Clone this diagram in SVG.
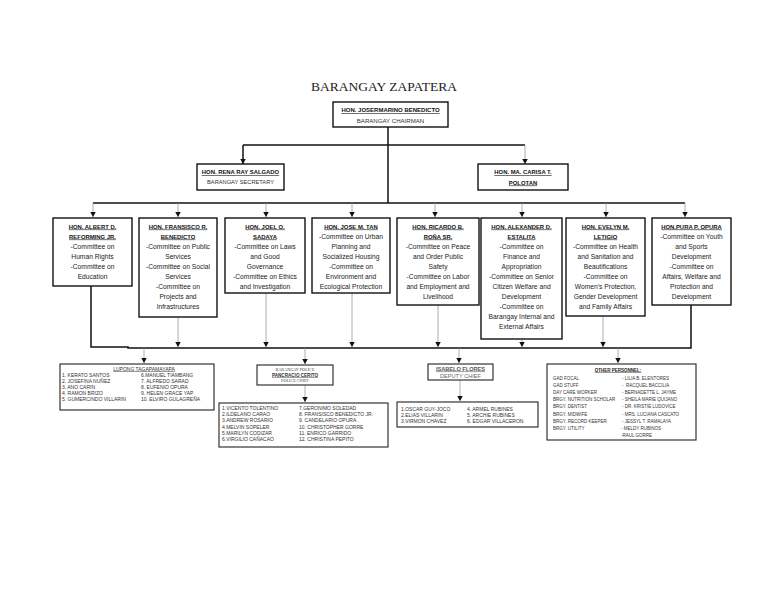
<svg xmlns="http://www.w3.org/2000/svg" width="768" height="594" viewBox="0 0 768 594">
<style>
.bg{fill:#fff}
.box{fill:#fff;stroke:#111;stroke-width:1.4}
.sbox{fill:#fff;stroke:#222;stroke-width:1.1}
.title{font-family:"Liberation Serif",serif;font-size:13.5px;fill:#222;text-anchor:middle}
.h{font-family:"Liberation Sans",Arial,sans-serif;font-size:5.9px;font-weight:bold;fill:#111;text-anchor:middle;text-decoration:underline}
.s{font-family:"Liberation Sans",Arial,sans-serif;font-size:6px;fill:#333;text-anchor:middle}
.c{font-family:"Liberation Sans",Arial,sans-serif;font-size:6.7px;fill:#222;text-anchor:middle}
.n{font-family:"Liberation Sans",Arial,sans-serif;font-size:5px;fill:#333}
.p{font-family:"Liberation Sans",Arial,sans-serif;font-size:4.5px;fill:#333}
.thick{fill:none;stroke:#111;stroke-width:1.5}
.thin{fill:none;stroke:#999;stroke-width:0.8}
</style>
<defs>
<marker id="ah" markerUnits="userSpaceOnUse" markerWidth="6" markerHeight="6" refX="5" refY="2.75" orient="auto">
<path d="M0,0 L5,2.75 L0,5.5 z" fill="#111"/>
</marker>
</defs>
<rect class="bg" x="0" y="0" width="768" height="594"/>
<text class="title" x="384" y="91">BARANGAY ZAPATERA</text>

<g id="connectors">
<path class="thick" d="M388,127 V203"/>
<path class="thick" d="M243,145 H525"/>
<path class="thick" d="M243,145 V164" marker-end="url(#ah)"/>
<path class="thin" d="M525,145 V164" marker-end="url(#ah)"/>
<path class="thick" d="M93,203 H685"/>
<path class="thin" d="M93,203 V217" marker-end="url(#ah)"/>
<path class="thin" d="M178,203 V217" marker-end="url(#ah)"/>
<path class="thin" d="M266,203 V217" marker-end="url(#ah)"/>
<path class="thin" d="M352,203 V217" marker-end="url(#ah)"/>
<path class="thin" d="M435,203 V217" marker-end="url(#ah)"/>
<path class="thin" d="M522,203 V217" marker-end="url(#ah)"/>
<path class="thin" d="M606,203 V217" marker-end="url(#ah)"/>
<path class="thin" d="M685,203 V217" marker-end="url(#ah)"/>
<path class="thick" d="M91,286 V347 H128 V348 H691 V305"/>
<path class="thin" d="M178,317 V347" marker-end="url(#ah)"/>
<path class="thin" d="M266,293 V347" marker-end="url(#ah)"/>
<path class="thin" d="M352,293 V347" marker-end="url(#ah)"/>
<path class="thin" d="M438,305 V347" marker-end="url(#ah)"/>
<path class="thin" d="M522,339 V347" marker-end="url(#ah)"/>
<path class="thin" d="M603,316 V347" marker-end="url(#ah)"/>
<path class="thin" d="M144,348 V363" marker-end="url(#ah)"/>
<path class="thin" d="M305,348 V364" marker-end="url(#ah)"/>
<path class="thin" d="M459,348 V363" marker-end="url(#ah)"/>
<path class="thin" d="M618,348 V363" marker-end="url(#ah)"/>
<path class="thin" d="M305,385 V402" marker-end="url(#ah)"/>
<path class="thin" d="M460,380 V401" marker-end="url(#ah)"/>
</g>

<g id="chairman">
<rect class="box" x="333" y="102" width="115" height="25"/>
<text class="h" x="390.5" y="112" style="font-size:6px">HON. JOSERMARINO BENEDICTO</text>
<text class="s" x="390.5" y="123" style="font-size:6.1px">BARANGAY CHAIRMAN</text>
</g>

<g id="secretary">
<rect class="box" x="197" y="164" width="87" height="26"/>
<text class="h" x="240.5" y="174">HON. RENA RAY SALGADO</text>
<text class="s" x="240.5" y="184" style="font-size:5.7px">BARANGAY SECRETARY</text>
</g>

<g id="treasurer">
<rect class="box" x="478" y="164" width="90" height="26"/>
<text class="h" x="523" y="174">HON. MA. CARISA T.</text>
<text class="h" x="523" y="184.5">POLOTAN</text>
</g>

<g id="kagawad1">
<rect class="box" x="53" y="218" width="79" height="68"/>
<text class="h" x="92.5" y="228.5">HON. ALBERT D.</text>
<text class="h" x="92.5" y="238.5">REFORMING JR.</text>
<text class="c" x="92.5" y="248.5">-Committee on</text>
<text class="c" x="92.5" y="258.5">Human Rights</text>
<text class="c" x="92.5" y="268.5">-Committee on</text>
<text class="c" x="92.5" y="278.5">Education</text>
</g>

<g id="kagawad2">
<rect class="box" x="139" y="218" width="78" height="99"/>
<text class="h" x="178" y="228.5">HON. FRANSISCO R.</text>
<text class="h" x="178" y="238.5">BENEDICTO</text>
<text class="c" x="178" y="248.5">-Committee on Public</text>
<text class="c" x="178" y="258.5">Services</text>
<text class="c" x="178" y="268.5">-Committee on Social</text>
<text class="c" x="178" y="278.5">Services</text>
<text class="c" x="178" y="288.5">-Committee on</text>
<text class="c" x="178" y="298.5">Projects and</text>
<text class="c" x="178" y="308.5">Infrastructures</text>
</g>

<g id="kagawad3">
<rect class="box" x="225" y="218" width="80" height="75"/>
<text class="h" x="265" y="228.5">HON. JOEL O.</text>
<text class="h" x="265" y="238.5">SADAYA</text>
<text class="c" x="265" y="248.5">-Committee on Laws</text>
<text class="c" x="265" y="258.5">and Good</text>
<text class="c" x="265" y="268.5">Governance</text>
<text class="c" x="265" y="278.5">-Committee on Ethics</text>
<text class="c" x="265" y="288.5">and Investigation</text>
</g>

<g id="kagawad4">
<rect class="box" x="312" y="218" width="78" height="75"/>
<text class="h" x="351" y="228.5">HON. JOSE M. TAN</text>
<text class="c" x="351" y="238.5">-Committee on Urban</text>
<text class="c" x="351" y="248.5">Planning and</text>
<text class="c" x="351" y="258.5">Socialized Housing</text>
<text class="c" x="351" y="268.5">-Committee on</text>
<text class="c" x="351" y="278.5">Environment and</text>
<text class="c" x="351" y="288.5">Ecological Protection</text>
</g>

<g id="kagawad5">
<rect class="box" x="397" y="218" width="82" height="87"/>
<text class="h" x="438" y="228.5">HON. RICARDO B.</text>
<text class="h" x="438" y="238.5">ROÑA SR.</text>
<text class="c" x="438" y="248.5">-Committee on Peace</text>
<text class="c" x="438" y="258.5">and Order Public</text>
<text class="c" x="438" y="268.5">Safety</text>
<text class="c" x="438" y="278.5">-Committee on Labor</text>
<text class="c" x="438" y="288.5">and Employment and</text>
<text class="c" x="438" y="298.5">Livelihood</text>
</g>

<g id="kagawad6">
<rect class="box" x="481" y="218" width="81" height="121"/>
<text class="h" x="521.5" y="228.5">HON. ALEXANDER D.</text>
<text class="h" x="521.5" y="238.5">ESTALITA</text>
<text class="c" x="521.5" y="248.5">-Committee on</text>
<text class="c" x="521.5" y="258.5">Finance and</text>
<text class="c" x="521.5" y="268.5">Appropriation</text>
<text class="c" x="521.5" y="278.5">-Committee on Senior</text>
<text class="c" x="521.5" y="288.5">Citizen Welfare and</text>
<text class="c" x="521.5" y="298.5">Development</text>
<text class="c" x="521.5" y="308.5">-Committee on</text>
<text class="c" x="521.5" y="318.5">Barangay Internal and</text>
<text class="c" x="521.5" y="328.5">External Affairs</text>
</g>

<g id="kagawad7">
<rect class="box" x="566" y="218" width="79" height="98"/>
<text class="h" x="605.5" y="228.5">HON. EVELYN M.</text>
<text class="h" x="605.5" y="238.5">LETIGIO</text>
<text class="c" x="605.5" y="248.5">-Committee on Health</text>
<text class="c" x="605.5" y="258.5">and Sanitation and</text>
<text class="c" x="605.5" y="268.5">Beautifications</text>
<text class="c" x="605.5" y="278.5">-Committee on</text>
<text class="c" x="605.5" y="288.5">Women’s Protection,</text>
<text class="c" x="605.5" y="298.5">Gender Development</text>
<text class="c" x="605.5" y="308.5">and Family Affairs</text>
</g>

<g id="kagawad8">
<rect class="box" x="652" y="218" width="79" height="87"/>
<text class="h" x="691.5" y="228.5">HON.PURA P. OPURA</text>
<text class="c" x="691.5" y="238.5">-Committee on Youth</text>
<text class="c" x="691.5" y="248.5">and Sports</text>
<text class="c" x="691.5" y="258.5">Development</text>
<text class="c" x="691.5" y="268.5">-Committee on</text>
<text class="c" x="691.5" y="278.5">Affairs, Welfare and</text>
<text class="c" x="691.5" y="288.5">Protection and</text>
<text class="c" x="691.5" y="298.5">Development</text>
</g>

<g id="lupong">
<rect class="sbox" x="60" y="364" width="154" height="46"/>
<text class="n" x="144" y="370.5" style="text-anchor:middle;text-decoration:underline">LUPONG TAGAPAMAYAPA</text>
<text class="n" x="62" y="376.8">1. KERATO SANTOS</text>
<text class="n" x="62" y="382.8">2. JOSEFINA NUÑEZ</text>
<text class="n" x="62" y="388.8">3. ANO CARIN</text>
<text class="n" x="62" y="394.8">4. RAMON BRIZO</text>
<text class="n" x="62" y="400.8">5. GUMERCINDO VILLARIN</text>
<text class="n" x="141" y="376.8">6.MANUEL TIAMBANG</text>
<text class="n" x="141" y="382.8">7. ALFREDO SARAD</text>
<text class="n" x="141" y="388.8">8. EUFENIO OPURA</text>
<text class="n" x="141" y="394.8">9. HELEN GRACE YAP</text>
<text class="n" x="141" y="400.8">10. ELVIRO GULAGREÑA</text>
</g>

<g id="police">
<rect class="sbox" x="257" y="365" width="76" height="20"/>
<text x="295" y="371" style="font-family:'Liberation Serif',serif;font-size:4.2px;fill:#444;text-anchor:middle">BARANGAY POLICE</text>
<text class="n" x="295" y="376.5" style="font-size:4.6px;font-weight:bold;text-anchor:middle;text-decoration:underline">PANCRACIO CERITO</text>
<text x="295" y="381.5" style="font-family:'Liberation Serif',serif;font-size:4.2px;fill:#444;text-anchor:middle">POLICE CHIEF</text>
</g>

<g id="police-members">
<rect class="sbox" x="219" y="403" width="169" height="44"/>
<text class="n" x="222" y="410">1.VICENTO TOLENTINO</text>
<text class="n" x="222" y="416.2">2.ILDELANO CARAO</text>
<text class="n" x="222" y="422.4">3.ANDREW ROSARIO</text>
<text class="n" x="222" y="428.6">4.MELVIN SOPELER</text>
<text class="n" x="222" y="434.8">5.MARILYN CODIZAR</text>
<text class="n" x="222" y="441">6.VIRGILIO CAÑACAO</text>
<text class="n" x="299" y="410">7.GERONIMO SOLEDAD</text>
<text class="n" x="299" y="416.2">8. FRANSISCO BENEDICTO JR.</text>
<text class="n" x="299" y="422.4">9. CANDELARIO OPURA</text>
<text class="n" x="299" y="428.6">10. CHRISTOPHER GORRE</text>
<text class="n" x="299" y="434.8">11. ENRICO GARRIDO</text>
<text class="n" x="299" y="441">12. CHRISTINA PEPITO</text>
</g>

<g id="deputy">
<rect class="sbox" x="428" y="364" width="65" height="16"/>
<text class="n" x="460.5" y="370.5" style="font-size:5.6px;font-weight:bold;fill:#555;text-anchor:middle;text-decoration:underline">ISABELO FLORES</text>
<text class="n" x="460.5" y="378.3" style="font-size:5.6px;fill:#666;text-anchor:middle">DEPUTY CHIEF</text>
</g>

<g id="deputy-members">
<rect class="sbox" x="397" y="402" width="141" height="25"/>
<text class="n" x="401" y="410.5">1.OSCAR GUY-JOCO</text>
<text class="n" x="401" y="416.5">2.ELIAS VILLARIN</text>
<text class="n" x="401" y="422.5">3.VIRMON CHAVEZ</text>
<text class="n" x="467" y="410.5">4. ARMEL RUBINES</text>
<text class="n" x="467" y="416.5">5. ARCHIE RUBINES</text>
<text class="n" x="467" y="422.5">6. EDGAR VILLACERON</text>
</g>

<g id="other-personnel">
<rect class="sbox" x="547" y="364" width="149" height="76"/>
<text class="p" x="618" y="371.5" style="font-weight:bold;fill:#222;text-anchor:middle;text-decoration:underline">OTHER PERSONNEL:</text>
<text class="p" x="553" y="380">GAD FOCAL</text>
<text class="p" x="553" y="387.1">GAD STUFF</text>
<text class="p" x="553" y="394.2">DAY CARE WORKER</text>
<text class="p" x="553" y="401.3">BRGY. NUTRITION SCHOLAR</text>
<text class="p" x="553" y="408.4">BRGY. DENTIST</text>
<text class="p" x="553" y="415.5">BRGY. MIDWIFE</text>
<text class="p" x="553" y="422.6">BRGY. RECORD KEEPER</text>
<text class="p" x="553" y="429.7">BRGY.  UTILITY</text>
<text class="p" x="622" y="380">- LILIA B. ELENTORES</text>
<text class="p" x="622" y="387.1" xml:space="preserve">-  RACQUEL BACCILIA</text>
<text class="p" x="622" y="394.2">- BERNADETTE L. JAYME</text>
<text class="p" x="622" y="401.3">- SHEILA MARIE QUIJANO</text>
<text class="p" x="622" y="408.4">- DR. KRISTIE LUDOVICE</text>
<text class="p" x="622" y="415.5">- MRS. LUCIANA CASCATO</text>
<text class="p" x="622" y="422.6">- JESSYL T. RAMALAYA</text>
<text class="p" x="621" y="429.7">- MELDY RUBINOS</text>
<text class="p" x="621" y="436.8">-RAUL GORRE</text>
</g>
</svg>
